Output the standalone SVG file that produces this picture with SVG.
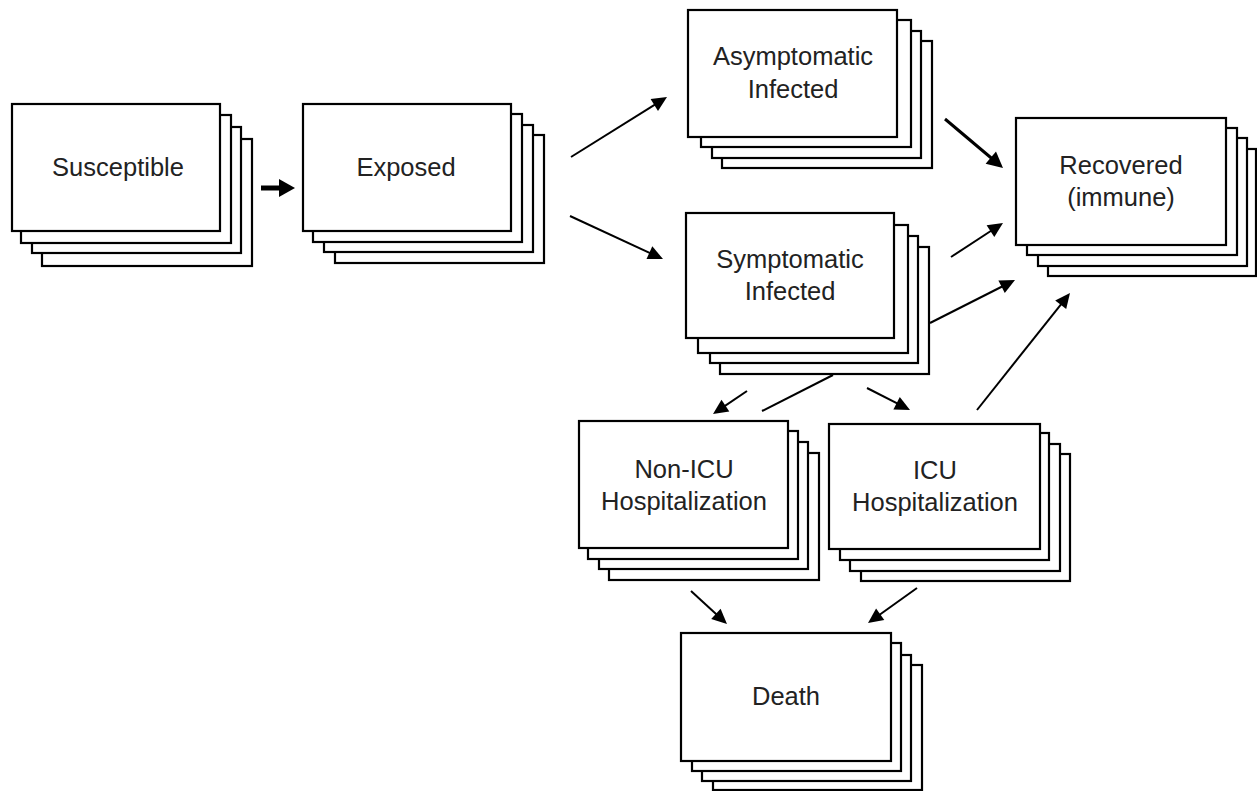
<svg xmlns="http://www.w3.org/2000/svg" width="1257" height="791" viewBox="0 0 1257 791">
<style>
.card{fill:#fff;stroke:#000;stroke-width:2.2}
.lbl{font-family:"Liberation Sans",Arial,sans-serif;font-size:25.5px;fill:#222;text-anchor:middle}
.ln{stroke:#000;stroke-width:2;fill:none}
.lnb{stroke:#000;stroke-width:3;fill:none}
.lnx{stroke:#000;stroke-width:5;fill:none}
.hd{fill:#000;stroke:none}
</style>
<rect width="1257" height="791" fill="#fff"/>
<g id="susceptible">
<rect class="card" x="42" y="139" width="210" height="127"/>
<rect class="card" x="32" y="127" width="209" height="126"/>
<rect class="card" x="21" y="115" width="210" height="128"/>
<rect class="card" x="12" y="104" width="208" height="127"/>
<text class="lbl" x="118" y="176">Susceptible</text>
</g>
<g id="exposed">
<rect class="card" x="335" y="135" width="209" height="128"/>
<rect class="card" x="324" y="125" width="209" height="127"/>
<rect class="card" x="313" y="114" width="209" height="128"/>
<rect class="card" x="303" y="104" width="208" height="127"/>
<text class="lbl" x="406" y="176">Exposed</text>
</g>
<g id="asymptomatic">
<rect class="card" x="722" y="41" width="210" height="127"/>
<rect class="card" x="712" y="31" width="209" height="127"/>
<rect class="card" x="701" y="20" width="210" height="127"/>
<rect class="card" x="688" y="10" width="209" height="127"/>
<text class="lbl" x="793" y="65">Asymptomatic</text>
<text class="lbl" x="793" y="98">Infected</text>
</g>
<g id="symptomatic">
<rect class="card" x="720" y="247" width="209" height="127"/>
<rect class="card" x="710" y="236" width="208" height="127"/>
<rect class="card" x="698" y="225" width="210" height="128"/>
<rect class="card" x="686" y="213" width="208" height="125"/>
<text class="lbl" x="790" y="268">Symptomatic</text>
<text class="lbl" x="790" y="300">Infected</text>
</g>
<g id="recovered">
<rect class="card" x="1048" y="149" width="208" height="127"/>
<rect class="card" x="1038" y="138" width="209" height="128"/>
<rect class="card" x="1027" y="128" width="210" height="127"/>
<rect class="card" x="1016" y="118" width="210" height="127"/>
<text class="lbl" x="1121" y="174">Recovered</text>
<text class="lbl" x="1121" y="206">(immune)</text>
</g>
<g id="non-icu">
<rect class="card" x="609" y="453" width="210" height="127"/>
<rect class="card" x="599" y="442" width="209" height="127"/>
<rect class="card" x="588" y="431" width="210" height="128"/>
<rect class="card" x="579" y="421" width="209" height="127"/>
<text class="lbl" x="684" y="478">Non-ICU</text>
<text class="lbl" x="684" y="510">Hospitalization</text>
</g>
<g id="icu">
<rect class="card" x="861" y="454" width="209" height="127"/>
<rect class="card" x="850" y="444" width="210" height="127"/>
<rect class="card" x="840" y="433" width="209" height="127"/>
<rect class="card" x="829" y="424" width="211" height="125"/>
<text class="lbl" x="935" y="479">ICU</text>
<text class="lbl" x="935" y="511">Hospitalization</text>
</g>
<g id="death">
<rect class="card" x="713" y="665" width="209" height="125"/>
<rect class="card" x="702" y="655" width="209" height="126"/>
<rect class="card" x="692" y="643" width="209" height="128"/>
<rect class="card" x="681" y="633" width="210" height="128"/>
<text class="lbl" x="786" y="705">Death</text>
</g>
<g id="connectors">
<line class="lnx" x1="261" y1="188" x2="281" y2="188"/>
<polygon class="hd" points="295,188 279,179 279,197"/>
<line class="ln" x1="571" y1="157" x2="658.5" y2="102.3"/>
<polygon class="hd" points="667,97 658,110.9 650.6,99"/>
<line class="ln" x1="570" y1="216" x2="653.9" y2="254.8"/>
<polygon class="hd" points="663,259 646.5,259.05 652.3,246.35"/>
<line class="lnb" x1="945" y1="119" x2="995.4" y2="161.5"/>
<polygon class="hd" points="1003,168 985.6,163.8 996,151.6"/>
<line class="ln" x1="951" y1="257" x2="994.6" y2="228.5"/>
<polygon class="hd" points="1003,223 994.3,237.1 986.6,225.35"/>
<line class="ln" x1="930" y1="323" x2="1006.1" y2="284.5"/>
<polygon class="hd" points="1015,280 1004.8,293 998.4,280.5"/>
<line class="ln" x1="977" y1="410" x2="1063.8" y2="300.8"/>
<polygon class="hd" points="1070,293 1066.2,309.1 1055.2,300.4"/>
<line class="ln" x1="747" y1="391" x2="721.3" y2="408.4"/>
<polygon class="hd" points="713,414 721.5,399.8 729.3,411.4"/>
<line class="ln" x1="833" y1="375" x2="762" y2="411"/>
<line class="ln" x1="867" y1="388" x2="901.1" y2="405.4"/>
<polygon class="hd" points="910,410 893.4,409.4 899.8,397"/>
<line class="ln" x1="691" y1="591" x2="719.6" y2="617.2"/>
<polygon class="hd" points="727,624 711.2,619.1 720.6,608.7"/>
<line class="ln" x1="917" y1="588" x2="876.1" y2="617.2"/>
<polygon class="hd" points="868,623 876.1,608.6 884.3,620"/>
</g>
</svg>
